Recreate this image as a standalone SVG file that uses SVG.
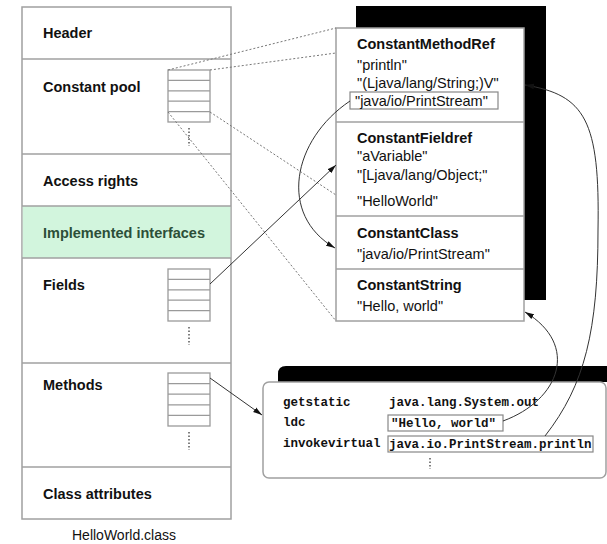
<svg xmlns="http://www.w3.org/2000/svg" width="607" height="544" viewBox="0 0 607 544">
<style>
.box{fill:#fff;stroke:#a0a0a0;stroke-width:1.5}
.sep{stroke:#a0a0a0;stroke-width:1.5;fill:none}
.tbl{fill:#fff;stroke:#9a9a9a;stroke-width:1.3}
.lbl{font-family:"Liberation Sans",Arial,sans-serif;font-size:14.5px;font-weight:bold;fill:#111}
.txt{font-family:"Liberation Sans",Arial,sans-serif;font-size:14.5px;fill:#111}
.code{font-family:"Liberation Mono","Courier New",monospace;font-size:12.5px;font-weight:bold;fill:#111}
.dot{stroke:#777;stroke-width:1;stroke-dasharray:2 2;fill:none}
.vdots{stroke:#555;stroke-width:1.5;stroke-dasharray:1.5 2;fill:none}
.conn{stroke:#333;stroke-width:1;fill:none}
</style>
<defs>
<marker id="ah" viewBox="0 0 10 6" refX="10" refY="3" markerWidth="9" markerHeight="6" markerUnits="userSpaceOnUse" orient="auto">
<path d="M0,0 L10,3 L0,6 z" fill="#111"/>
</marker>
</defs>

<g id="classfile">
<rect class="box" x="22" y="7" width="209" height="512"/>
<rect x="22.75" y="206" width="207.5" height="52" fill="#d2f5dd"/>
<line class="sep" x1="22" y1="59" x2="231" y2="59"/>
<line class="sep" x1="22" y1="154" x2="231" y2="154"/>
<line class="sep" x1="22" y1="206" x2="231" y2="206"/>
<line class="sep" x1="22" y1="258" x2="231" y2="258"/>
<line class="sep" x1="22" y1="363" x2="231" y2="363"/>
<line class="sep" x1="22" y1="467" x2="231" y2="467"/>
<text class="lbl" x="43" y="38">Header</text>
<text class="lbl" x="43" y="92">Constant pool</text>
<text class="lbl" x="43" y="186">Access rights</text>
<text class="lbl" x="43" y="238" style="fill:#2c4f38">Implemented interfaces</text>
<text class="lbl" x="43" y="290">Fields</text>
<text class="lbl" x="43" y="390">Methods</text>
<text class="lbl" x="43" y="499">Class attributes</text>
<text class="txt" x="124" y="540" text-anchor="middle" style="font-size:14px">HelloWorld.class</text>
</g>

<g id="cp-table">
<rect class="tbl" x="168" y="70" width="42" height="52"/>
<path class="tbl" d="M168,80.4H210M168,90.8H210M168,101.2H210M168,111.6H210"/>
<line class="vdots" x1="189" y1="128" x2="189" y2="146"/>
</g>
<g id="fields-table">
<rect class="tbl" x="168" y="269" width="42" height="52"/>
<path class="tbl" d="M168,279.4H210M168,289.8H210M168,300.2H210M168,310.6H210"/>
<line class="vdots" x1="189" y1="327" x2="189" y2="345"/>
</g>
<g id="methods-table">
<rect class="tbl" x="168" y="373" width="42" height="53"/>
<path class="tbl" d="M168,383.6H210M168,394.2H210M168,404.8H210M168,415.4H210"/>
<line class="vdots" x1="189" y1="432" x2="189" y2="450"/>
</g>

<g id="constantpool">
<rect x="356" y="6" width="190" height="294" fill="#000"/>
<rect class="box" x="336" y="28" width="188" height="293"/>
<line class="sep" x1="336" y1="122" x2="524" y2="122"/>
<line class="sep" x1="336" y1="216" x2="524" y2="216"/>
<line class="sep" x1="336" y1="269" x2="524" y2="269"/>
<text class="lbl" x="357" y="49">ConstantMethodRef</text>
<text class="txt" x="357" y="70">"println"</text>
<text class="txt" x="357" y="88">"(Ljava/lang/String;)V"</text>
<rect class="box" x="350" y="92" width="148" height="17" style="stroke:#888;stroke-width:1.2"/>
<text class="txt" x="355" y="106">"java/io/PrintStream"</text>
<text class="lbl" x="357" y="143">ConstantFieldref</text>
<text class="txt" x="357" y="161">"aVariable"</text>
<text class="txt" x="357" y="180">"[Ljava/lang/Object;"</text>
<text class="txt" x="357" y="206">"HelloWorld"</text>
<text class="lbl" x="357" y="238">ConstantClass</text>
<text class="txt" x="357" y="259">"java/io/PrintStream"</text>
<text class="lbl" x="357" y="290">ConstantString</text>
<text class="txt" x="357" y="311">"Hello, world"</text>
</g>

<g id="code">
<path d="M278,382 V374 Q278,366 286,366 H607 V382 z" fill="#000"/>
<rect class="box" x="263" y="382" width="343" height="96" rx="6" ry="6"/>
<text class="code" x="283" y="406">getstatic</text>
<text class="code" x="389" y="406">java.lang.System.out</text>
<text class="code" x="283" y="426">ldc</text>
<rect class="box" x="388" y="415" width="115" height="16" style="stroke:#888;stroke-width:1.2"/>
<text class="code" x="391" y="427">"Hello, world"</text>
<text class="code" x="283" y="447">invokevirtual</text>
<rect class="box" x="388" y="436" width="205" height="16" style="stroke:#888;stroke-width:1.2"/>
<text class="code" x="389" y="448">java.io.PrintStream.println</text>
<line class="vdots" x1="430" y1="458" x2="430" y2="469"/>
</g>

<g id="connectors">
<path class="dot" d="M168,70 L336,28"/>
<path class="dot" d="M210,70 L336,53"/>
<path class="dot" d="M210,112 L336,195"/>
<path class="dot" d="M168,112 L336,321"/>
<path class="conn" d="M210,284 L336,165" marker-end="url(#ah)"/>
<path class="conn" d="M210,378 L262,415" marker-end="url(#ah)"/>
<path class="conn" d="M350,101 C292,140 278,215 335,248" marker-end="url(#ah)"/>
<path class="conn" d="M503,421 C560,400 580,345 525,312" marker-end="url(#ah)"/>
<path class="conn" d="M545,436 C585,385 598,330 598,230 C600,120 585,95 525,85" marker-end="url(#ah)"/>
</g>
</svg>
